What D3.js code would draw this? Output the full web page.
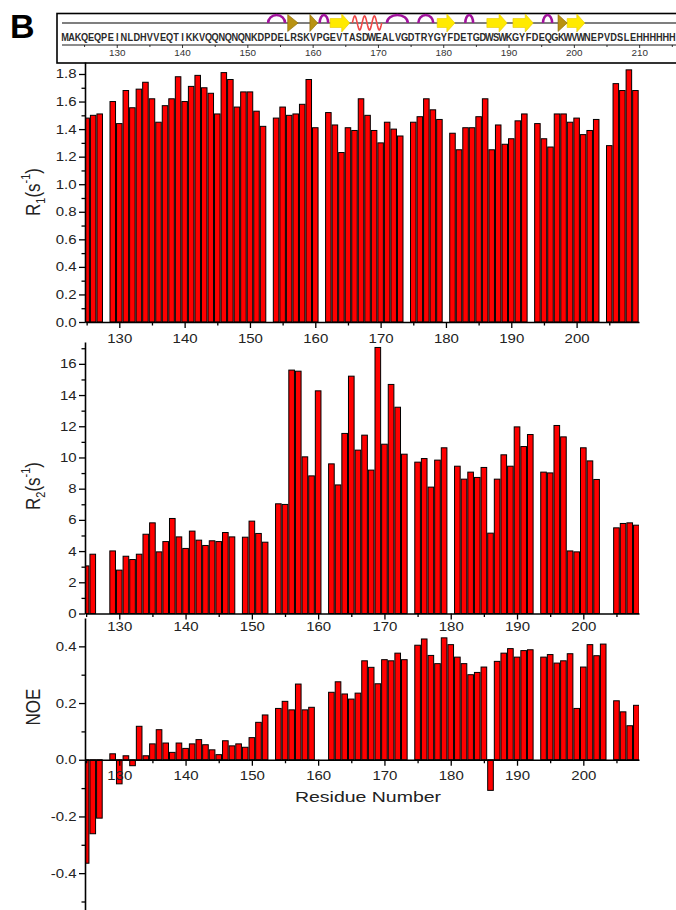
<!DOCTYPE html>
<html>
<head>
<meta charset="utf-8">
<script src="https://cdn.jsdelivr.net/npm/d3@7"></script>
<style>
  body { margin: 0; background: #fff; }
  svg { display: block; font-family: "Liberation Sans", Arial, sans-serif; }
</style>
</head>
<body>
<div id="chart"></div>
<script>
var svgWidth = 676;
var svgHeight = 910;

// sequence strip
var sequence = "MAKQEQPEINLDHVVEQTIKKVQQNQNQNKDPDELRSKVPGEVTASDWEALVGDTRYGYFDETGDWSWKGYFDEQGKWVWNEPVDSLEHHHHHH".split("");
var seqFirst = 122;
var seqTicks = [130, 140, 150, 160, 170, 180, 190, 200, 210];

// secondary structure (residue ranges)
var ssType  = ["turn", "bridge", "bridge", "turn", "strand", "helix", "turn", "turn", "strand", "turn", "strand", "strand", "turn", "bridge", "strand"];
var ssStart = [153.1, 156.1, 159.5, 161.0, 162.6, 166.0, 171.3, 176.1, 179.0, 183.3, 186.6, 190.6, 195.2, 197.5, 198.9];
var ssEnd   = [155.7, 157.7, 160.7, 162.3, 165.6, 170.5, 174.5, 178.4, 181.7, 184.5, 189.7, 193.7, 196.6, 198.9, 201.6];

// residues 125..209
var residues = [125,126,127,128,129,130,131,132,133,134,135,136,137,138,139,140,141,142,143,144,145,146,147,148,149,
  150,151,152,153,154,155,156,157,158,159,160,161,162,163,164,165,166,167,168,169,170,171,172,173,174,175,176,177,178,179,
  180,181,182,183,184,185,186,187,188,189,190,191,192,193,194,195,196,197,198,199,200,201,202,203,204,205,206,207,208,209];

var r1Values = [1.48,1.50,1.51,null,1.60,1.44,1.68,1.555,1.69,1.74,1.62,1.45,1.57,1.62,1.78,1.60,1.71,1.79,1.70,1.66,1.51,1.81,1.76,1.56,1.67,
  1.67,1.53,1.42,null,1.48,1.56,1.50,1.51,1.58,1.76,1.41,null,1.52,1.43,1.23,1.41,1.39,1.62,1.50,1.39,1.30,1.45,1.40,1.35,null,1.45,1.49,1.62,1.54,1.47,
  null,1.37,1.25,1.41,1.41,1.49,1.62,1.25,1.43,1.29,1.33,1.46,1.51,null,1.44,1.33,1.27,1.51,1.51,1.45,1.48,1.36,1.39,1.47,null,1.28,1.73,1.68,1.83,1.68];

var r2Values = [3.05,3.80,null,null,4.01,2.78,3.67,3.46,3.80,5.08,5.81,3.95,4.61,6.09,4.91,4.17,5.28,4.70,4.36,4.66,4.61,5.19,4.91,null,4.89,
  5.92,5.13,4.57,null,7.03,6.99,15.60,15.53,10.04,8.82,14.27,null,9.59,8.24,11.54,15.21,10.47,11.43,9.19,17.05,10.85,14.68,13.22,10.21,null,9.70,9.93,8.10,9.83,10.62,
  null,9.44,8.61,9.06,8.72,9.36,5.15,8.61,10.17,9.44,11.96,10.70,11.47,null,9.06,9.01,12.05,11.32,4.01,3.95,10.62,9.78,8.59,null,null,5.49,5.77,5.81,5.66,null];

var noeValues = [-0.365,-0.261,-0.206,null,0.021,-0.085,0.014,-0.021,0.118,0.014,0.056,0.106,0.059,0.026,0.059,0.040,0.056,0.071,0.053,0.035,0.018,0.067,0.049,0.056,0.044,
  0.078,0.132,0.158,null,0.181,0.206,0.176,0.267,0.176,0.185,null,null,0.238,0.275,0.232,0.214,0.235,0.349,0.326,0.268,0.353,0.349,0.376,0.353,null,0.404,0.426,0.368,0.339,0.430,
  0.406,0.362,0.339,0.300,0.308,0.327,-0.108,0.347,0.376,0.392,0.362,0.385,0.388,null,0.362,0.371,0.341,0.349,0.374,0.181,0.327,0.406,0.367,0.408,null,0.208,0.169,0.120,0.192,null];

var xMajor = [130, 140, 150, 160, 170, 180, 190, 200];
var xMinor = [125, 135, 145, 155, 165, 175, 185, 195, 205];

var plotLeft = 85, plotRight = 639;
var stretch = 1.2;

var svg = d3.select("#chart")
  .append("svg")
  .attr("width", svgWidth)
  .attr("height", svgHeight);

// panel letter
svg.append("text")
  .attr("x", 10).attr("y", 38)
  .attr("font-size", 34).attr("font-weight", "bold")
  .text("B");

// ---- sequence box ----
var seqX = d3.scaleLinear().domain([122, 215]).range([65, 672.3]);
var box = svg.append("g");

box.append("rect")
  .attr("x", 57).attr("y", 13.5)
  .attr("width", 700).attr("height", 49.5)
  .attr("fill", "none").attr("stroke", "#000").attr("stroke-width", 1.6);

box.append("line")
  .attr("x1", 62).attr("x2", 700).attr("y1", 23).attr("y2", 23)
  .attr("stroke", "#000").attr("stroke-width", 1.2);

box.append("line")
  .attr("x1", 62).attr("x2", 700).attr("y1", 45).attr("y2", 45)
  .attr("stroke", "#000").attr("stroke-width", 0.9);

box.selectAll(".seqtick")
  .data(d3.range(125, 216, 5))
  .join("line")
  .attr("x1", d => seqX(d)).attr("x2", d => seqX(d))
  .attr("y1", 45).attr("y2", d => d % 10 === 0 ? 48 : 47)
  .attr("stroke", "#000").attr("stroke-width", 0.8);

box.selectAll(".seqletter")
  .data(sequence)
  .join("text")
  .attr("transform", (d, i) => `translate(${seqX(seqFirst + i)},41) scale(0.92,1)`)
  .attr("text-anchor", "middle")
  .attr("font-size", 10)
  .attr("font-weight", "bold")
  .attr("fill", "#2a2a2a")
  .text(d => d);

box.selectAll(".seqnum")
  .data(seqTicks)
  .join("text")
  .attr("transform", d => `translate(${seqX(d)},56) scale(1.1,1)`)
  .attr("text-anchor", "middle")
  .attr("font-size", 9)
  .attr("fill", "#333")
  .text(d => d);

// secondary structure cartoon
var ss = ssType.map((t, i) => ({type: t, x1: seqX(ssStart[i]), x2: seqX(ssEnd[i])}));
var ssY = 23;

ss.forEach(function(d) {
  if (d.type === "turn") {
    var rx = (d.x2 - d.x1) / 2;
    box.append("path")
      .attr("d", `M${d.x1},${ssY} A${rx},8 0 0 1 ${d.x2},${ssY}`)
      .attr("fill", "none").attr("stroke", "#a0139c").attr("stroke-width", 2.5);
  } else if (d.type === "bridge") {
    box.append("path")
      .attr("d", `M${d.x1},${ssY - 8.5}L${d.x2},${ssY}L${d.x1},${ssY + 8.5}Z`)
      .attr("fill", "#b89212").attr("stroke", "#8a6a08").attr("stroke-width", 0.6);
  } else if (d.type === "strand") {
    var xh = d.x2 - 8;
    box.append("path")
      .attr("d", `M${d.x1},${ssY - 4.5}L${xh},${ssY - 4.5}L${xh},${ssY - 9}L${d.x2},${ssY}L${xh},${ssY + 9}L${xh},${ssY + 4.5}L${d.x1},${ssY + 4.5}Z`)
      .attr("fill", "#ffea00").attr("stroke", "#e8c800").attr("stroke-width", 0.6);
  } else if (d.type === "helix") {
    var pts = d3.range(0, 61).map(k => [d.x1 + (d.x2 - d.x1) * k / 60, ssY - 7 * Math.sin(k / 60 * 3 * 2 * Math.PI)]);
    box.append("path")
      .attr("d", d3.line()(pts))
      .attr("fill", "none").attr("stroke", "#f04848").attr("stroke-width", 1.6);
  }
});

// ---- bar panels ----
var panels = [
  { id: "r1", values: r1Values, xDomain: [124.75, 209.55], yDomain: [0, 1.887], yRange: [322, 62],
    yMajor: d3.range(0, 1.81, 0.2), yMinor: d3.range(0.1, 1.9, 0.2), fmt: d => d.toFixed(1),
    xPad: 6, xMaj: xMajor, title: ["R", "1", "(s", "-1", ")"], titleY: 192 },
  { id: "r2", values: r2Values, xDomain: [124.83, 208.4], yDomain: [0, 17.4], yRange: [613.5, 342],
    yMajor: d3.range(0, 17, 2), yMinor: d3.range(1, 18, 2), fmt: d3.format("d"),
    xPad: 3, xMaj: xMajor, title: ["R", "2", "(s", "-1", ")"], titleY: 486 },
  { id: "noe", values: noeValues, xDomain: [124.83, 208.4], yDomain: [-0.53, 0.5], yRange: [910, 618],
    yMajor: [-0.4, -0.2, 0, 0.2, 0.4], yMinor: [-0.5, -0.3, -0.1, 0.1, 0.3], fmt: d => d.toFixed(1),
    xPad: 5, xMaj: xMajor, title: null, titleY: 707 }
];

panels.forEach(function(p) {
  var x = d3.scaleLinear().domain(p.xDomain).range([plotLeft, plotRight]);
  var y = d3.scaleLinear().domain(p.yDomain).range(p.yRange);
  var step = x(1) - x(0);

  svg.append("clipPath").attr("id", "clip-" + p.id)
    .append("rect")
    .attr("x", plotLeft).attr("y", p.yRange[1] - 5)
    .attr("width", plotRight - plotLeft).attr("height", p.yRange[0] - p.yRange[1] + 10);

  var bars = residues.map((r, i) => ({r: r, v: p.values[i]})).filter(d => d.v !== null);

  svg.append("g")
    .attr("clip-path", `url(#clip-${p.id})`)
    .selectAll("rect")
    .data(bars)
    .join("rect")
    .attr("x", d => x(d.r) - (step - 1) / 2)
    .attr("width", step - 1)
    .attr("y", d => y(Math.max(0, d.v)))
    .attr("height", d => Math.abs(y(d.v) - y(0)))
    .attr("fill", "#ff0000")
    .attr("stroke", "#000")
    .attr("stroke-width", 1);

  // x axis on the zero line
  var xg = svg.append("g")
    .attr("transform", `translate(0,${y(0)})`)
    .call(d3.axisBottom(x).tickValues(p.xMaj).tickSize(6).tickSizeOuter(0).tickPadding(p.xPad).tickFormat(d3.format("d")));
  xg.append("g")
    .call(d3.axisBottom(x).tickValues(xMinor.filter(v => v > p.xDomain[0])).tickSize(3.5).tickFormat(""))
    .select(".domain").remove();
  xg.select(".domain").attr("stroke-width", 1.6);
  xg.selectAll(".tick line").attr("stroke-width", 1.3);
  xg.selectAll("text")
    .attr("font-size", 12.5).attr("fill", "#222")
    .attr("font-family", "Liberation Sans, Arial, sans-serif")
    .attr("transform", `scale(${stretch},1)`);

  // y axis
  var yg = svg.append("g")
    .attr("transform", `translate(${plotLeft},0)`)
    .call(d3.axisLeft(y).tickValues(p.yMajor).tickSize(6).tickSizeOuter(0).tickPadding(1).tickFormat(p.fmt));
  yg.append("g")
    .call(d3.axisLeft(y).tickValues(p.yMinor.filter(v => v > p.yDomain[0] && v < p.yDomain[1])).tickSize(3.5).tickFormat(""))
    .select(".domain").remove();
  yg.select(".domain").attr("stroke-width", 1.6);
  yg.selectAll(".tick line").attr("stroke-width", 1.3);
  yg.selectAll("text")
    .attr("font-size", 12.5).attr("fill", "#222")
    .attr("font-family", "Liberation Sans, Arial, sans-serif")
    .attr("transform", `scale(${stretch},1)`);

  // y title
  var t = svg.append("text")
    .attr("transform", `translate(40,${p.titleY}) rotate(-90) scale(1,1.2)`)
    .attr("text-anchor", "middle")
    .attr("font-size", 17)
    .attr("fill", "#222");
  if (p.title) {
    t.append("tspan").text(p.title[0]);
    t.append("tspan").attr("font-size", 11).attr("dy", 4).text(p.title[1]);
    t.append("tspan").attr("dy", -4).text(p.title[2]);
    t.append("tspan").attr("font-size", 11).attr("dy", -8).text(p.title[3]);
    t.append("tspan").attr("dy", 8).text(p.title[4]);
  } else {
    t.text("NOE");
  }
});

// x title
svg.append("text")
  .attr("transform", "translate(368,802) scale(1.3,1)")
  .attr("text-anchor", "middle")
  .attr("font-size", 15)
  .attr("fill", "#222")
  .text("Residue Number");
</script>
</body>
</html>
